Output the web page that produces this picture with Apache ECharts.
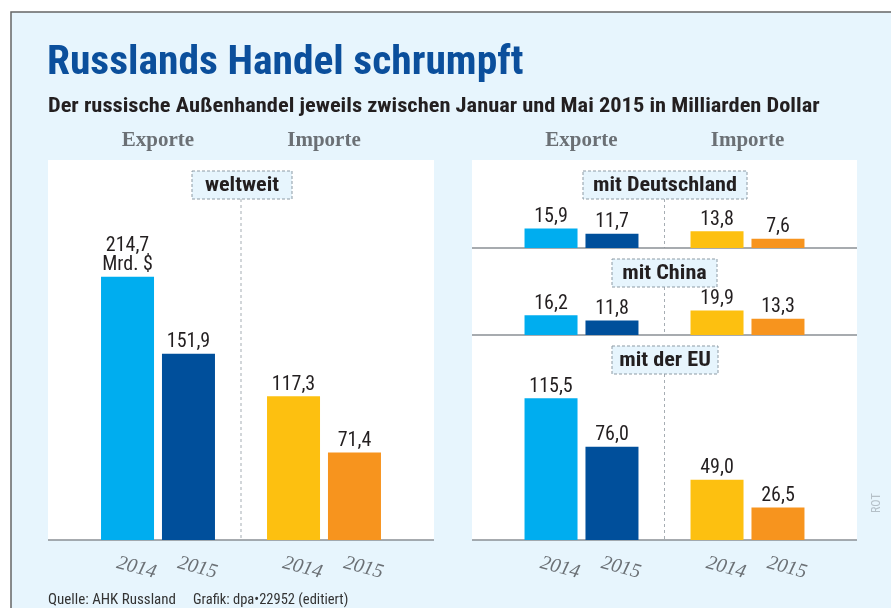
<!DOCTYPE html>
<html lang="de">
<head>
<meta charset="UTF-8">
<title>Russlands Handel schrumpft</title>
<script src="https://cdn.jsdelivr.net/npm/echarts@6/dist/echarts.min.js"></script>
<style>
  * { margin: 0; padding: 0; }
  body { background: #fff; }
  #chart { width: 891px; height: 608px; }
</style>
</head>
<body>
<div id="chart"></div>
<script>
// Werte in Milliarden Dollar, jeweils [Exporte, Importe]
const groups = ['Exporte', 'Importe'];
const years = ['2014', '2015'];
const panelNames = ['weltweit', 'mit Deutschland', 'mit China', 'mit der EU'];
const weltweit2014 = [214.7, 117.3];
const weltweit2015 = [151.9, 71.4];
const deutschland2014 = [15.9, 13.8];
const deutschland2015 = [11.7, 7.6];
const china2014 = [16.2, 19.9];
const china2015 = [11.8, 13.3];
const eu2014 = [115.5, 49.0];
const eu2015 = [76.0, 26.5];

const colors2014 = ['#00adef', '#fdc010'];
const colors2015 = ['#004f9b', '#f7941e'];

const COND = '"Roboto Condensed", "DejaVu Sans Condensed", sans-serif';
const SERIF = '"Liberation Serif", "DejaVu Serif", serif';

// alle Felder mit gleichem Maßstab (~1,225 px je Mrd.)
const panels = [
  { name: panelNames[0], d14: weltweit2014, d15: weltweit2015, grid: { left: 75, top: 160, width: 332, height: 380 }, max: 310, years: true },
  { name: panelNames[1], d14: deutschland2014, d15: deutschland2015, grid: { left: 498.5, top: 160, width: 332, height: 88 }, max: 72 },
  { name: panelNames[2], d14: china2014, d15: china2015, grid: { left: 498.5, top: 248, width: 332, height: 87 }, max: 71 },
  { name: panelNames[3], d14: eu2014, d15: eu2015, grid: { left: 498.5, top: 335, width: 332, height: 205 }, max: 167, years: true }
];

const fmt = v => v.toFixed(1).replace('.', ',');

const grid = [], xAxis = [], yAxis = [], series = [];
panels.forEach((p, i) => {
  grid.push(p.grid);
  xAxis.push({
    type: 'category', gridIndex: i, data: groups, position: 'top',
    axisLine: { show: false }, axisTick: { show: false },
    axisLabel: { show: i < 2, margin: 9, fontFamily: SERIF, fontWeight: 'bold', fontSize: 21, color: '#6b7075' }
  });
  yAxis.push({ type: 'value', gridIndex: i, min: 0, max: p.max, show: false });
  [[years[0], p.d14, colors2014], [years[1], p.d15, colors2015]].forEach(([yr, data, cols]) => {
    const stack = 'p' + i + 'y' + yr;
    if (p.years) {
      // unsichtbare Null-Balken tragen die Jahreszahl unter der Achse
      series.push({
        type: 'bar', xAxisIndex: i, yAxisIndex: i, stack, barWidth: 53, barGap: '15%',
        data: data.map(() => 0), itemStyle: { color: 'transparent' }, silent: true,
        label: { show: true, position: 'bottom', distance: 15, offset: [12, 0], rotate: -15, formatter: yr,
          fontFamily: SERIF, fontStyle: 'italic', fontSize: 20, color: '#6b7075' }
      });
    }
    series.push({
      type: 'bar', xAxisIndex: i, yAxisIndex: i, stack, barWidth: 53, barGap: '15%',
      data: data.map((v, k) => ({ value: v, itemStyle: { color: cols[k] } })),
      label: { show: true, position: 'top', distance: 2, fontFamily: COND, fontSize: 20, color: '#231f20', lineHeight: 19,
        formatter: q => fmt(q.value) + (i === 0 && yr === '2014' && q.dataIndex === 0 ? '\nMrd. $' : '') }
    });
  });
});

const box = (cx, y, w, text) => ({
  type: 'group', children: [
    { type: 'rect', shape: { x: cx - w / 2, y, width: w, height: 28 }, style: { fill: '#e7f5fd', stroke: '#8d9ba5', lineWidth: 1, lineDash: [3, 2] } },
    { type: 'text', x: cx, y: y + 15, scaleX: 1.11, style: { text, font: 'bold 20px ' + COND, fill: '#231f20', align: 'center', verticalAlign: 'middle' } }
  ]
});
const vline = (x, y1, y2) => ({ type: 'line', shape: { x1: x, y1, x2: x, y2 }, style: { stroke: '#a6adb3', lineWidth: 1, lineDash: [3, 3] } });
const hline = (x1, x2, y) => ({ type: 'line', shape: { x1, y1: y, x2, y2: y }, style: { stroke: '#8a8f94', lineWidth: 1.5 } });

const graphic = [
  { type: 'rect', shape: { x: 11, y: 12, width: 900, height: 620 }, style: { fill: '#e7f5fd', stroke: '#666', lineWidth: 1.5 } },
  { type: 'rect', shape: { x: 48, y: 160, width: 386, height: 380 }, style: { fill: '#fff' } },
  { type: 'rect', shape: { x: 472, y: 160, width: 385, height: 380 }, style: { fill: '#fff' } },
  { type: 'text', x: 47, y: 43, style: { text: 'Russlands Handel schrumpft', font: 'bold 41.5px ' + COND, fill: '#0b4f9c' } },
  { type: 'text', x: 48, y: 97, scaleX: 1.12, style: { text: 'Der russische Außenhandel jeweils zwischen Januar und Mai 2015 in Milliarden Dollar', font: 'bold 20px ' + COND, fill: '#231f20' } },
  vline(241, 199, 540), vline(664.5, 199, 248), vline(664.5, 287, 335), vline(664.5, 374, 540),
  hline(48, 434, 540), hline(472, 857, 248), hline(472, 857, 335), hline(472, 857, 540),
  box(242, 171, 100, panelNames[0]), box(665, 171, 164, panelNames[1]), box(664.5, 259, 105, panelNames[2]), box(665, 346, 106, panelNames[3]),
  { type: 'text', x: 48, y: 593, style: { text: 'Quelle: AHK Russland', font: '15px ' + COND, fill: '#333' } },
  { type: 'text', x: 193, y: 593, style: { text: 'Grafik: dpa\u202222952 (editiert)', font: '14.5px ' + COND, fill: '#333' } },
  { type: 'text', x: 871, y: 513, rotation: Math.PI / 2, style: { text: 'ROT', font: '12px ' + COND, fill: '#b5c0c8' } }
];

const chart = echarts.init(document.getElementById('chart'));
chart.setOption({ animation: false, grid, xAxis, yAxis, series, graphic });
</script>
</body>
</html>
